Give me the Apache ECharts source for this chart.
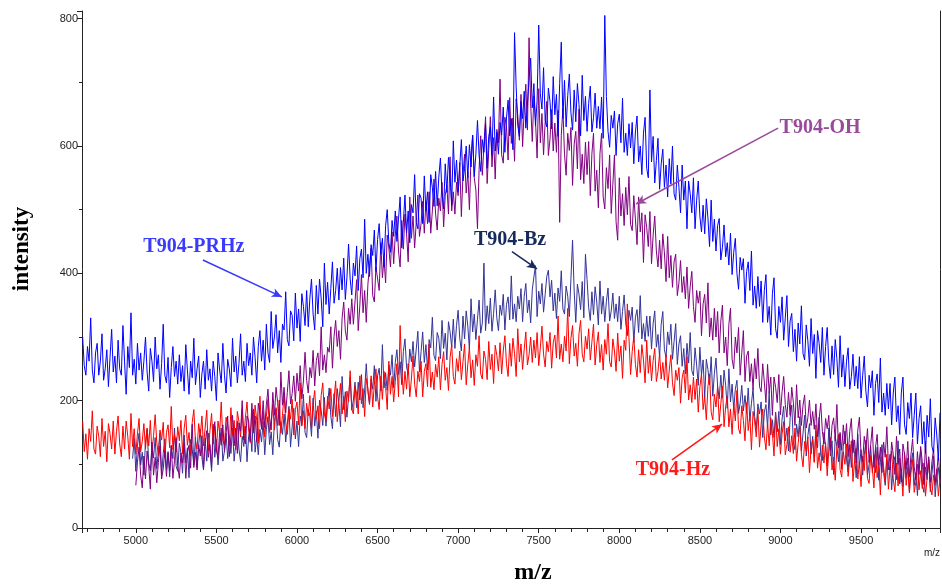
<!DOCTYPE html>
<html>
<head>
<meta charset="utf-8">
<script src="https://cdn.jsdelivr.net/npm/echarts@6/dist/echarts.min.js"></script>
<style>
  html, body { margin: 0; padding: 0; background: #ffffff; }
  #chart { width: 942px; height: 584px; }
</style>
</head>
<body>
<div id="chart"></div>
<script>
// Spectra sampled every 10 m/z; each series lists its first m/z and its intensities.
const MZ_STEP = 10;

const prhzStart = 4670;
const prhz = [
  300, 255, 240, 285, 262, 330, 248, 228, 275, 290, 240, 262, 305, 232, 250, 280, 222, 268, 312, 245,
  270, 228, 295, 250, 240, 318, 262, 210, 285, 252, 338, 240, 265, 226, 290, 248, 275, 232, 262, 300,
  245, 215, 282, 262, 230, 300, 250, 272, 218, 258, 320, 240, 228, 268, 205, 252, 285, 238, 262, 226,
  272, 230, 255, 215, 288, 248, 210, 262, 236, 298, 225, 250, 270, 205, 242, 262, 218, 280, 232, 250,
  215, 262, 238, 200, 275, 248, 228, 290, 240, 212, 265, 250, 222, 298, 245, 270, 228, 258, 305, 240,
  262, 230, 290, 255, 275, 240, 300, 268, 228, 285, 310, 262, 295, 248, 320, 275, 260, 340, 282, 300,
  335, 275, 310, 260, 320, 311, 371, 296, 286, 341, 334, 294, 369, 314, 344, 293, 368, 348, 318, 373,
  316, 361, 391, 336, 311, 381, 336, 391, 361, 316, 416, 351, 386, 336, 376, 418, 353, 373, 408, 358,
  409, 374, 424, 359, 394, 446, 391, 366, 416, 396, 443, 373, 423, 438, 393, 485, 400, 430, 395, 445,
  428, 468, 403, 453, 478, 430, 455, 410, 475, 500, 448, 433, 483, 458, 498, 450, 485, 520, 440, 480,
  523, 463, 498, 448, 508, 495, 555, 480, 470, 525, 518, 478, 553, 498, 528, 480, 555, 535, 505, 560,
  506, 551, 581, 526, 501, 572, 527, 582, 552, 507, 608, 543, 578, 528, 568, 610, 545, 565, 600, 550,
  602, 567, 617, 552, 587, 640, 585, 560, 610, 590, 635, 565, 615, 630, 585, 677, 592, 622, 587, 637,
  617, 661, 590, 644, 672, 616, 643, 594, 778, 693, 632, 615, 670, 643, 686, 628, 666, 705, 738, 660,
  698, 632, 671, 790, 682, 658, 723, 641, 630, 691, 670, 627, 709, 649, 681, 615, 698, 763, 643, 703,
  630, 679, 713, 652, 625, 688, 638, 698, 665, 616, 711, 640, 678, 623, 667, 694, 622, 645, 683, 628,
  662, 627, 677, 612, 805, 678, 623, 598, 648, 628, 655, 585, 635, 650, 605, 675, 590, 620, 585, 635,
  597, 637, 572, 622, 647, 575, 600, 555, 620, 645, 565, 550, 688, 575, 615, 542, 577, 612, 532, 572,
  595, 535, 570, 520, 580, 540, 600, 525, 515, 570, 535, 495, 570, 515, 545, 470, 545, 525, 495, 550,
  470, 515, 545, 490, 465, 507, 462, 517, 487, 442, 515, 450, 485, 435, 475, 486, 421, 441, 476, 426,
  448, 413, 463, 398, 433, 455, 400, 375, 425, 405, 423, 353, 403, 418, 373, 435, 350, 380, 345, 395,
  348, 388, 323, 373, 398, 323, 348, 303, 368, 393, 313, 298, 348, 323, 363, 295, 330, 365, 285, 325,
  337, 277, 312, 262, 322, 289, 349, 274, 264, 319, 294, 254, 329, 274, 304, 235, 310, 290, 260, 315,
  240, 285, 315, 260, 235, 286, 241, 296, 266, 221, 302, 237, 272, 222, 262, 283, 218, 238, 273, 223,
  254, 219, 269, 204, 239, 270, 215, 190, 240, 220, 247, 177, 227, 242, 197, 267, 182, 212, 177, 227,
  187, 227, 162, 212, 237, 167, 192, 147, 212, 237, 162, 147, 197, 172, 212, 142, 177, 212, 132, 172,
  192, 132, 167, 117, 177, 143, 203, 128, 118, 173, 146, 106, 181
];

const ohStart = 5000;
const oh = [
  67, 103, 127, 83, 63, 113, 77, 121, 97, 61, 135, 83, 111, 71, 103, 129, 77, 93, 121, 81,
  118, 90, 130, 78, 106, 142, 98, 78, 118, 102, 134, 78, 118, 130, 94, 163, 95, 119, 91, 131,
  113, 145, 93, 133, 153, 111, 131, 95, 147, 167, 122, 110, 150, 130, 162, 120, 148, 176, 112, 144,
  177, 129, 157, 117, 165, 152, 200, 140, 132, 176, 168, 136, 196, 152, 176, 136, 196, 180, 156, 200,
  158, 194, 218, 174, 154, 213, 177, 221, 197, 161, 245, 193, 221, 181, 213, 247, 195, 211, 239, 199,
  243, 215, 255, 203, 231, 276, 232, 212, 252, 236, 279, 223, 263, 275, 239, 316, 248, 272, 244, 284,
  276, 316, 251, 301, 326, 285, 310, 265, 330, 355, 310, 295, 345, 320, 360, 320, 355, 390, 310, 350,
  398, 338, 373, 323, 383, 380, 440, 365, 355, 410, 413, 373, 448, 393, 423, 385, 460, 440, 410, 465,
  415, 460, 490, 435, 410, 483, 438, 493, 463, 418, 520, 455, 490, 440, 480, 523, 458, 478, 513, 463,
  513, 478, 528, 463, 498, 548, 493, 468, 518, 498, 543, 473, 523, 538, 493, 583, 498, 528, 493, 543,
  522, 574, 489, 555, 587, 526, 559, 500, 585, 617, 550, 531, 470, 563, 616, 554, 600, 646, 541, 594,
  646, 567, 613, 548, 626, 605, 705, 586, 573, 645, 631, 578, 676, 604, 644, 576, 674, 648, 609, 681,
  599, 658, 697, 625, 770, 666, 607, 679, 640, 581, 690, 605, 651, 586, 638, 670, 585, 611, 657, 592,
  636, 590, 656, 480, 617, 659, 587, 554, 620, 593, 629, 538, 603, 623, 564, 658, 547, 587, 541, 606,
  555, 607, 522, 588, 620, 529, 562, 503, 588, 620, 520, 501, 566, 533, 586, 494, 540, 586, 481, 452,
  550, 490, 525, 475, 535, 492, 552, 477, 467, 522, 485, 445, 520, 465, 495, 417, 492, 472, 442, 497,
  415, 460, 490, 435, 410, 452, 407, 462, 432, 387, 458, 393, 428, 378, 418, 430, 365, 385, 420, 370,
  395, 360, 410, 345, 380, 403, 348, 323, 373, 353, 372, 302, 352, 367, 322, 385, 300, 330, 295, 345,
  300, 340, 275, 325, 350, 275, 300, 255, 320, 345, 265, 250, 300, 275, 315, 240, 275, 310, 230, 270,
  278, 230, 258, 218, 266, 234, 282, 222, 214, 258, 229, 197, 257, 213, 237, 177, 237, 221, 197, 241,
  178, 214, 238, 194, 174, 213, 177, 221, 197, 161, 225, 173, 201, 161, 193, 209, 157, 173, 201, 161,
  183, 155, 195, 143, 171, 196, 152, 132, 172, 156, 177, 121, 161, 173, 137, 194, 126, 150, 122, 162,
  132, 164, 112, 152, 172, 118, 138, 102, 154, 174, 116, 104, 144, 124, 156, 103, 131, 159, 95, 127,
  147, 99, 127, 87, 135, 111, 159, 99, 91, 135, 116, 84, 144, 100, 124, 72, 132, 116, 92, 136,
  80, 116, 140, 96, 76, 120, 84, 128, 104, 68, 136, 84, 112, 72, 104, 124, 72, 88, 116, 76
];

const bzStart = 4980;
const bz = [
  109, 141, 89, 129, 149, 99, 119, 83, 135, 155, 102, 90, 130, 110, 142, 93, 121, 149, 85, 117,
  140, 92, 120, 80, 128, 109, 157, 97, 89, 133, 118, 86, 146, 102, 126, 79, 139, 123, 99, 143,
  95, 131, 155, 111, 91, 141, 105, 149, 125, 89, 163, 111, 139, 99, 131, 157, 105, 121, 149, 109,
  145, 117, 157, 105, 133, 168, 124, 104, 144, 128, 160, 104, 144, 156, 120, 187, 119, 143, 115, 155,
  135, 167, 115, 155, 175, 131, 151, 115, 167, 187, 139, 127, 167, 147, 179, 135, 163, 191, 127, 159,
  188, 140, 168, 128, 176, 162, 210, 150, 142, 186, 176, 144, 204, 160, 184, 141, 201, 185, 161, 205,
  160, 196, 220, 176, 156, 211, 175, 219, 195, 159, 238, 186, 214, 174, 206, 237, 185, 201, 229, 189,
  229, 201, 241, 189, 217, 258, 214, 194, 234, 218, 255, 199, 239, 251, 215, 288, 220, 244, 216, 256,
  240, 272, 220, 260, 280, 241, 261, 225, 277, 297, 253, 241, 281, 261, 293, 253, 281, 309, 245, 277,
  308, 260, 288, 248, 296, 283, 331, 271, 263, 307, 298, 266, 326, 282, 306, 264, 324, 308, 284, 328,
  282, 318, 342, 298, 278, 333, 297, 341, 317, 281, 360, 308, 336, 296, 328, 358, 306, 322, 416, 310,
  349, 321, 361, 309, 337, 374, 330, 310, 350, 334, 367, 311, 351, 363, 327, 396, 328, 352, 324, 364,
  344, 376, 324, 364, 384, 338, 358, 322, 374, 394, 412, 332, 372, 352, 384, 339, 367, 395, 405, 363,
  389, 341, 369, 329, 377, 356, 404, 344, 336, 380, 364, 332, 392, 452, 372, 323, 383, 367, 343, 387,
  330, 430, 390, 346, 326, 371, 335, 379, 355, 319, 388, 336, 364, 324, 356, 377, 325, 341, 369, 329,
  352, 324, 364, 312, 340, 366, 322, 302, 342, 326, 347, 291, 331, 343, 307, 365, 297, 321, 293, 333,
  301, 333, 281, 321, 341, 284, 304, 268, 320, 340, 280, 268, 308, 288, 320, 265, 293, 321, 257, 289,
  302, 254, 282, 242, 290, 259, 307, 247, 239, 283, 256, 224, 284, 240, 264, 205, 265, 249, 225, 269,
  207, 243, 267, 223, 203, 240, 204, 248, 224, 188, 250, 198, 226, 186, 218, 232, 180, 196, 224, 184,
  208, 180, 220, 168, 196, 219, 175, 155, 195, 179, 198, 142, 182, 194, 158, 214, 146, 170, 142, 182,
  151, 183, 131, 171, 191, 137, 157, 121, 173, 193, 135, 123, 163, 143, 175, 121, 149, 177, 113, 145,
  164, 116, 144, 104, 152, 126, 174, 114, 106, 150, 129, 97, 157, 113, 137, 84, 144, 128, 104, 148,
  92, 128, 152, 108, 88, 131, 95, 139, 115, 79, 147, 95, 123, 83, 115, 135, 83, 99, 127, 87,
  115, 87, 127, 75, 103, 131, 87, 67, 107, 91, 116, 60, 100, 112, 76, 137, 69, 93, 65, 105,
  78, 110, 58, 98, 118, 67, 87, 51, 103, 123, 68, 56, 96, 76, 108, 57, 85, 113, 49, 81,
  95, 70
];

const hzStart = 4670;
const hz = [
  168, 120, 148, 108, 156, 136, 184, 124, 116, 160, 144, 112, 172, 128, 152, 104, 164, 148, 124, 168,
  116, 152, 176, 132, 112, 160, 124, 168, 144, 108, 180, 128, 156, 116, 148, 172, 120, 136, 164, 124,
  157, 129, 169, 117, 145, 178, 134, 114, 154, 138, 166, 110, 150, 162, 126, 191, 123, 147, 119, 159,
  137, 169, 117, 157, 177, 130, 150, 114, 166, 186, 136, 124, 164, 144, 176, 129, 157, 185, 121, 153,
  180, 132, 160, 120, 168, 150, 198, 138, 130, 174, 161, 129, 189, 145, 169, 123, 183, 167, 143, 187,
  138, 174, 198, 154, 134, 185, 149, 193, 169, 133, 207, 155, 183, 143, 175, 202, 150, 166, 194, 154,
  189, 161, 201, 149, 177, 211, 167, 147, 187, 171, 202, 146, 186, 198, 162, 228, 160, 184, 156, 196,
  176, 208, 156, 196, 216, 172, 192, 156, 208, 228, 179, 167, 207, 187, 219, 175, 203, 231, 167, 199,
  227, 179, 207, 167, 215, 199, 247, 187, 179, 223, 211, 179, 239, 195, 219, 175, 235, 219, 195, 239,
  190, 226, 250, 206, 186, 238, 202, 246, 222, 186, 262, 210, 238, 198, 230, 258, 206, 318, 250, 210,
  246, 218, 258, 206, 234, 270, 226, 206, 246, 230, 262, 206, 246, 258, 222, 289, 221, 245, 217, 257,
  237, 269, 217, 257, 277, 232, 252, 216, 268, 288, 238, 226, 266, 246, 278, 233, 261, 289, 225, 257,
  284, 236, 264, 224, 272, 254, 302, 242, 234, 278, 265, 233, 293, 249, 273, 227, 287, 271, 247, 291,
  242, 278, 302, 258, 238, 290, 254, 298, 274, 238, 313, 261, 289, 249, 281, 308, 256, 272, 300, 260,
  295, 267, 307, 255, 283, 317, 273, 253, 293, 277, 307, 251, 291, 303, 267, 333, 265, 289, 261, 301,
  278, 345, 258, 298, 318, 270, 290, 254, 306, 326, 273, 261, 301, 281, 313, 264, 292, 320, 256, 288,
  308, 260, 288, 248, 296, 273, 321, 261, 253, 297, 278, 246, 306, 262, 286, 235, 295, 279, 352, 299,
  241, 277, 301, 257, 237, 280, 244, 288, 264, 228, 295, 243, 271, 231, 263, 282, 230, 246, 274, 234,
  260, 232, 272, 220, 248, 272, 228, 208, 248, 232, 252, 196, 236, 248, 212, 269, 201, 225, 197, 237,
  202, 234, 182, 222, 242, 186, 206, 170, 222, 242, 182, 170, 210, 190, 222, 167, 195, 223, 159, 191,
  207, 159, 187, 147, 195, 168, 216, 156, 148, 192, 169, 137, 197, 153, 177, 123, 183, 167, 143, 187,
  127, 163, 187, 143, 123, 165, 129, 173, 149, 113, 180, 128, 156, 116, 148, 167, 115, 131, 159, 119,
  145, 117, 157, 105, 133, 160, 116, 96, 136, 120, 143, 87, 127, 139, 103, 162, 94, 118, 90, 130,
  102, 134, 82, 122, 142, 91, 111, 75, 127, 147, 92, 80, 120, 100, 132, 81, 109, 137, 73, 105,
  125, 77, 105, 65, 113, 90, 138, 78, 70, 114, 95, 63, 123, 79, 103, 52, 112, 96, 72, 116,
  61, 97, 121, 77, 57, 102, 66, 110, 86, 50, 119, 67, 95, 55, 87, 108, 56, 72, 100, 60,
  90, 62, 102, 50, 78, 107, 63, 52, 83, 67, 93, 50, 77
];

// Axis extents (m/z and intensity)
const mzRange = [4666, 9990];
const intensityRange = [0, 812];

function toPoints(start, values) {
  return values.map((v, i) => [start + i * MZ_STEP, v]);
}

// Callout for each trace: label anchor and arrow, in data coordinates
const callouts = [
  { text: 'T904-PRHz', color: '#3a3aff', arrowColor: '#3a3aff', at: [5360, 441], from: [5416, 421], to: [5906, 363] },
  { text: 'T904-Bz',   color: '#172a5c', arrowColor: '#172a5c', at: [7322, 452], from: [7334, 434], to: [7489, 407] },
  { text: 'T904-OH',   color: '#9a4a9a', arrowColor: '#9a4a9a', at: [9246, 628], from: [8985, 628], to: [8104, 509] },
  { text: 'T904-Hz',   color: '#ff1a1a', arrowColor: '#ff1a1a', at: [8333, 91],  from: [8327, 107], to: [8638, 163] }
];

const serif = '"Liberation Serif", "Times New Roman", serif';
const sans = '"Liberation Sans", Arial, sans-serif';

const chart = echarts.init(document.getElementById('chart'), null, { renderer: 'canvas' });

function arrowLine(c) {
  return {
    silent: true,
    symbol: ['none', 'arrow'],
    symbolSize: [7, 10],
    lineStyle: { color: c.arrowColor, width: 1.6, type: 'solid' },
    label: { show: false },
    emphasis: { disabled: true },
    data: [[{ coord: c.from }, { coord: c.to }]]
  };
}

function lineSeries(name, start, values, color, callout) {
  return {
    name: name,
    type: 'line',
    data: toPoints(start, values),
    showSymbol: false,
    symbol: 'none',
    lineStyle: { color: color, width: 1 },
    itemStyle: { color: color },
    animation: false,
    clip: true,
    markLine: arrowLine(callout)
  };
}

const option = {
  animation: false,
  backgroundColor: '#ffffff',
  grid: { left: 82, right: 2, top: 11, bottom: 56, containLabel: false },
  xAxis: {
    type: 'value',
    min: mzRange[0],
    max: mzRange[1],
    splitNumber: 10,
    axisLine: { show: true, lineStyle: { color: '#222', width: 1 } },
    axisTick: { show: true, length: 5, lineStyle: { color: '#222' } },
    minorTick: { show: true, splitNumber: 5, length: 4, lineStyle: { color: '#222' } },
    splitLine: { show: false },
    axisLabel: {
      showMinLabel: false, showMaxLabel: false,
      color: '#222', fontFamily: sans, fontSize: 11, margin: 7,
      formatter: function (v) { return String(v); }
    }
  },
  yAxis: [
    {
      type: 'value',
      min: intensityRange[0],
      max: intensityRange[1],
      interval: 200,
      axisLine: { show: true, lineStyle: { color: '#222', width: 1 } },
      axisTick: { show: true, length: 5, lineStyle: { color: '#222' } },
      minorTick: { show: true, splitNumber: 2, length: 3, lineStyle: { color: '#222' } },
      splitLine: { show: false },
      axisLabel: {
        showMaxLabel: false,
        color: '#222', fontFamily: sans, fontSize: 11, margin: 4,
        formatter: function (v) { return String(v); }
      }
    },
    {
      type: 'value',
      position: 'right',
      min: intensityRange[0],
      max: intensityRange[1],
      axisLine: { show: true, lineStyle: { color: '#222', width: 1 } },
      axisTick: { show: false },
      axisLabel: { show: false },
      splitLine: { show: false }
    }
  ],
  series: [
    lineSeries('T904-Bz', bzStart, bz, '#333399', callouts[1]),
    lineSeries('T904-Hz', hzStart, hz, '#ff0000', callouts[3]),
    lineSeries('T904-OH', ohStart, oh, '#800080', callouts[2]),
    lineSeries('T904-PRHz', prhzStart, prhz, '#0000ff', callouts[0])
  ]
};

chart.setOption(option);

// Titles and trace labels, placed after the axes are laid out
const graphics = [
  {
    type: 'text', x: 533, y: 573,
    style: { text: 'm/z', fill: '#000', font: 'bold 24px ' + serif, align: 'center', verticalAlign: 'middle' }
  },
  {
    type: 'text', x: 22, y: 249, rotation: Math.PI / 2,
    style: { text: 'intensity', fill: '#000', font: 'bold 23px ' + serif, align: 'center', verticalAlign: 'middle' }
  },
  {
    type: 'text', x: 940, y: 553,
    style: { text: 'm/z', fill: '#222', font: '10px ' + sans, align: 'right', verticalAlign: 'middle' }
  }
];

callouts.forEach(function (c) {
  const p = chart.convertToPixel({ gridIndex: 0 }, c.at);
  graphics.push({
    type: 'text', x: p[0], y: p[1],
    style: { text: c.text, fill: c.color, font: 'bold 20px ' + serif, align: 'center', verticalAlign: 'middle' }
  });
});

chart.setOption({ graphic: graphics });
</script>
</body>
</html>
